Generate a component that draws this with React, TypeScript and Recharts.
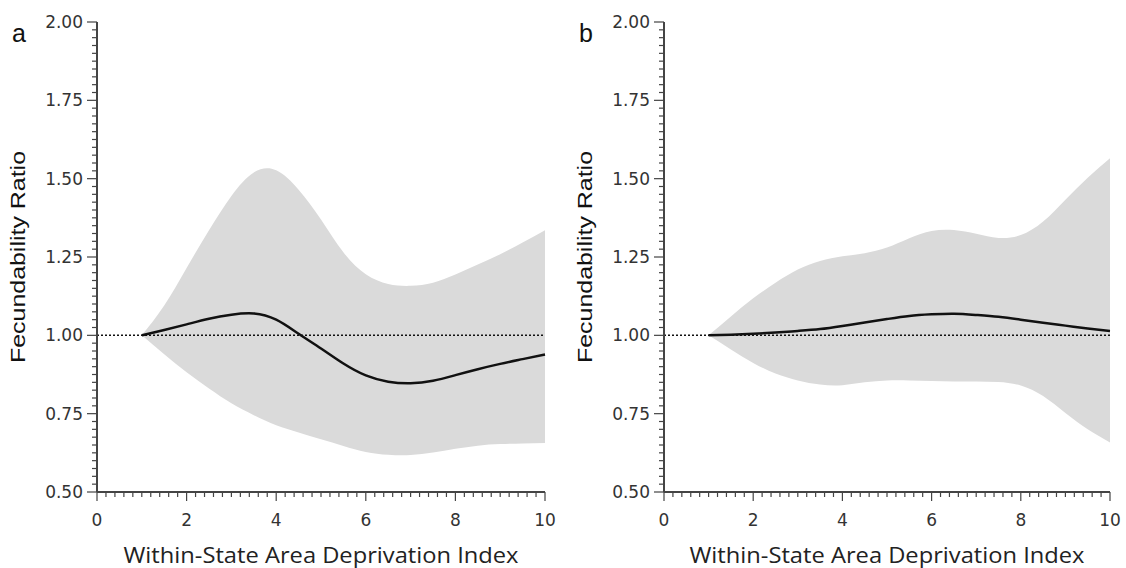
import { ComposedChart, Area, Line, XAxis, YAxis, ReferenceLine, Label } from "recharts";

// deprivation index grid used for both panels
const adiValues = [1, 1.5, 2, 2.5, 3, 3.5, 4, 4.5, 5, 5.5, 6, 6.5, 7, 7.5, 8, 8.5, 9, 9.5, 10];

// panel a
const ratioA = [1.0, 1.017, 1.035, 1.053, 1.066, 1.07, 1.05, 1.005, 0.958, 0.91, 0.872, 0.852, 0.847, 0.855, 0.873, 0.892, 0.909, 0.924, 0.939];
const lowerA = [1.0, 0.94, 0.882, 0.83, 0.783, 0.745, 0.713, 0.69, 0.668, 0.647, 0.628, 0.619, 0.618, 0.626, 0.638, 0.648, 0.653, 0.655, 0.656];
const upperA = [1.0, 1.095, 1.215, 1.335, 1.445, 1.52, 1.527, 1.465, 1.37, 1.265, 1.195, 1.164, 1.158, 1.168, 1.194, 1.226, 1.259, 1.296, 1.335];

// panel b
const ratioB = [1.0, 1.002, 1.005, 1.009, 1.014, 1.02, 1.03, 1.041, 1.052, 1.062, 1.067, 1.069, 1.065, 1.059, 1.05, 1.04, 1.031, 1.022, 1.014];
const lowerB = [1.0, 0.955, 0.912, 0.878, 0.856, 0.843, 0.841, 0.85, 0.856, 0.856, 0.854, 0.853, 0.853, 0.851, 0.84, 0.806, 0.752, 0.7, 0.658];
const upperB = [1.0, 1.06, 1.118, 1.168, 1.21, 1.237, 1.252, 1.262, 1.28, 1.31, 1.333, 1.336, 1.324, 1.311, 1.32, 1.363, 1.433, 1.503, 1.565];

const xMajor = [0, 2, 4, 6, 8, 10];
const yMajor = [0.5, 0.75, 1.0, 1.25, 1.5, 1.75, 2.0];
const xTicks = Array.from({ length: 51 }, (_, i) => i / 5);
const yTicks = Array.from({ length: 61 }, (_, i) => 0.5 + i * 0.025);

const axisColor = "#444";
const textColor = "#333";
const bandColor = "#dadada";

const isMajor = (list: number[], v: number) => list.some((m) => Math.abs(m - v) < 1e-6);

function XTick({ x, y, payload }: any) {
  const v = payload.value;
  const major = isMajor(xMajor, v);
  return (
    <g>
      <line x1={x} x2={x} y1={y} y2={y + (major ? 9 : 5)} stroke={axisColor} strokeWidth={1.2} />
      {major && (
        <text x={x} y={y + 34} textAnchor="middle" fill={textColor} style={{ fontFamily: "DejaVu Sans", fontSize: 17 }}>
          {Math.round(v)}
        </text>
      )}
    </g>
  );
}

function YTick({ x, y, payload }: any) {
  const v = payload.value;
  const major = isMajor(yMajor, v);
  return (
    <g>
      <line x1={x - (major ? 10 : 5)} x2={x} y1={y} y2={y} stroke={axisColor} strokeWidth={1.2} />
      {major && (
        <text x={x - 14} y={y + 6} textAnchor="end" fill={textColor} style={{ fontFamily: "DejaVu Sans", fontSize: 17 }}>
          {v.toFixed(2)}
        </text>
      )}
    </g>
  );
}

function Panel({ letter, est, lower, upper, left, yWidth, right }: any) {
  const rows = adiValues.map((x, i) => ({ x, band: [lower[i], upper[i]], est: est[i] }));
  return (
    <div style={{ position: "absolute", left, top: 0 }}>
      <ComposedChart width={563} height={568} data={rows} margin={{ top: 22, right, bottom: 0, left: 0 }}>
        <XAxis
          dataKey="x"
          type="number"
          domain={[0, 10]}
          ticks={xTicks}
          interval={0}
          tickSize={0}
          tickMargin={0}
          tickLine={false}
          height={76}
          axisLine={{ stroke: axisColor, strokeWidth: 2 }}
          tick={<XTick />}
        >
          <Label
            content={({ viewBox }: any) => (
              <text
                x={viewBox.x + viewBox.width / 2}
                y={viewBox.y + 71}
                textAnchor="middle"
                fill="#222"
                textLength={395}
                lengthAdjust="spacingAndGlyphs"
                style={{ fontFamily: "Open Sans", fontSize: 21 }}
              >
                Within-State Area Deprivation Index
              </text>
            )}
          />
        </XAxis>
        <YAxis
          type="number"
          domain={[0.5, 2]}
          ticks={yTicks}
          interval={0}
          width={yWidth}
          tickSize={0}
          tickMargin={0}
          tickLine={false}
          axisLine={{ stroke: axisColor, strokeWidth: 2 }}
          tick={<YTick />}
        >
          <Label
            content={({ viewBox }: any) => {
              const ax = viewBox.x + viewBox.width;
              const cx = ax - 72;
              const cy = viewBox.y + viewBox.height / 2;
              return (
                <g>
                  <text
                    x={cx}
                    y={cy}
                    transform={`rotate(-90 ${cx} ${cy})`}
                    textAnchor="middle"
                    fill="#111"
                    textLength={212}
                    lengthAdjust="spacingAndGlyphs"
                    style={{ fontFamily: "Liberation Sans", fontSize: 21 }}
                  >
                    Fecundability Ratio
                  </text>
                  <text x={ax - 85} y={42} fill="#111" style={{ fontFamily: "Liberation Sans", fontSize: 25 }}>
                    {letter}
                  </text>
                </g>
              );
            }}
          />
        </YAxis>
        <Area
          dataKey="band"
          type="natural"
          fill={bandColor}
          fillOpacity={1}
          stroke="none"
          isAnimationActive={false}
        />
        <ReferenceLine y={1} stroke="#111" strokeWidth={1.5} strokeDasharray="2 2" />
        <Line dataKey="est" type="natural" stroke="#111" strokeWidth={2.5} dot={false} isAnimationActive={false} />
      </ComposedChart>
    </div>
  );
}

export default function App() {
  return (
    <div style={{ position: "absolute", left: 0, top: 0, width: 1126, height: 568, background: "#fff" }}>
      <Panel letter="a" est={ratioA} lower={lowerA} upper={upperA} left={0} yWidth={97} right={18} />
      <Panel letter="b" est={ratioB} lower={lowerB} upper={upperB} left={563} yWidth={101} right={16} />
    </div>
  );
}
